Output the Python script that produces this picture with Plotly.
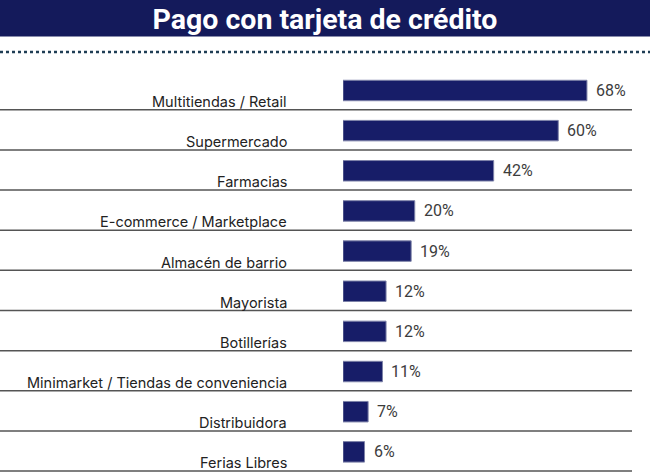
import plotly.graph_objects as go

categorias = ['Multitiendas / Retail', 'Supermercado', 'Farmacias', 'E-commerce / Marketplace',
              'Almacén de barrio', 'Mayorista', 'Botillerías',
              'Minimarket / Tiendas de conveniencia', 'Distribuidora', 'Ferias Libres']
porcentajes = [68, 60, 42, 20, 19, 12, 12, 11, 7, 6]
titulo = 'Pago con tarjeta de crédito'

W, H = 650, 474
ml, mr, mt, mb = 343, 20, 68, 0
pw = W - ml - mr
ph = H - mt - mb

def px_x(p):
    # pixel -> paper x
    return (p - ml) / pw

def px_y(p):
    # pixel -> paper y
    return (H - mb - p) / ph

idx = list(range(len(categorias)))

fig = go.Figure()
fig.add_trace(go.Bar(
    x=porcentajes, y=idx, orientation='h', width=0.51,
    marker=dict(color='#171d68', line=dict(color='#7d82a8', width=1)),
    hoverinfo='skip'))

# valores al final de cada barra
for i, v in zip(idx, porcentajes):
    fig.add_annotation(x=v, y=i, xref='x', yref='y', text=f'{v}%', showarrow=False,
                       xanchor='left', yanchor='middle', xshift=7,
                       font=dict(family='Roboto', size=16, color='#3c3c3c'))

# nombres de categoría, alineados a la derecha y abajo de la fila
for i, c in zip(idx, categorias):
    fig.add_annotation(x=px_x(289), y=i, xref='paper', yref='y', text=c, showarrow=False,
                       xanchor='right', yanchor='middle', yshift=-11,
                       font=dict(family='Inter', size=14.5, color='#222222'))
    fig.add_shape(type='line', xref='paper', yref='y', x0=px_x(0), x1=px_x(632),
                  y0=i + 0.48, y1=i + 0.48, line=dict(color='#555555', width=1.5))

# banda del título y línea punteada
fig.add_shape(type='rect', xref='paper', yref='paper', x0=px_x(0), x1=px_x(W),
              y0=px_y(36.5), y1=px_y(0), fillcolor='#141a5b', line=dict(width=0), layer='below')
fig.add_shape(type='line', xref='paper', yref='paper', x0=px_x(0), x1=px_x(W),
              y0=px_y(52), y1=px_y(52), line=dict(color='#1f3d55', width=2.5, dash='dot'))

fig.update_layout(
    width=W, height=H,
    margin=dict(l=ml, r=mr, t=mt, b=mb, pad=0),
    paper_bgcolor='white', plot_bgcolor='white',
    showlegend=False,
    title=dict(text=f'<b>{titulo}</b>', x=0.5, xanchor='center', xref='container',
               y=1 - 19 / H, yref='container', yanchor='middle',
               font=dict(family='Roboto', size=28.5, color='white')),
    xaxis=dict(range=[0, 80], visible=False, fixedrange=True),
    yaxis=dict(range=[9.552, -0.56], visible=False, fixedrange=True),
)

fig.write_html('out.html', config={'displayModeBar': False},
               post_script="document.body.style.margin='0';")
